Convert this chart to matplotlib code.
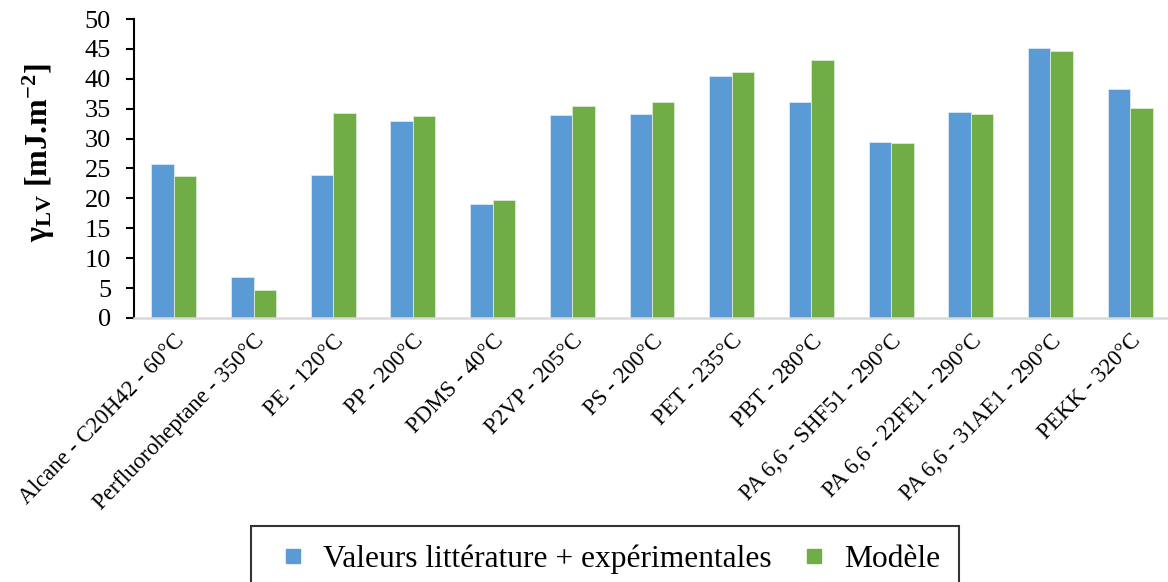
import numpy as np
import matplotlib
matplotlib.use("Agg")
import matplotlib.pyplot as plt
from matplotlib.lines import Line2D

plt.rcParams['font.family'] = ['Liberation Serif', 'DejaVu Serif']
plt.rcParams['mathtext.fontset'] = 'custom'
plt.rcParams['mathtext.rm'] = 'Liberation Serif'
plt.rcParams['mathtext.it'] = 'Liberation Serif:italic'
plt.rcParams['mathtext.bf'] = 'Liberation Serif:bold'

categories = [
    "Alcane - C20H42 - 60°C", "Perfluoroheptane - 350°C", "PE - 120°C",
    "PP - 200°C", "PDMS - 40°C", "P2VP - 205°C", "PS - 200°C",
    "PET - 235°C", "PBT - 280°C", "PA 6,6 - SHF51 - 290°C",
    "PA 6,6 - 22FE1 - 290°C", "PA 6,6 - 31AE1 - 290°C", "PEKK - 320°C",
]
valeurs = [25.7, 6.9, 23.9, 33.0, 19.1, 33.9, 34.1, 40.4, 36.1, 29.5, 34.4, 45.1, 38.3]
modele = [23.7, 4.7, 34.2, 33.7, 19.7, 35.5, 36.1, 41.1, 43.1, 29.2, 34.1, 44.6, 35.1]
series_names = ["Valeurs littérature + expérimentales", "Modèle"]

blue = "#5B9BD5"
green = "#70AD47"

fig = plt.figure(figsize=(11.68, 5.82), dpi=100)
ax = fig.add_axes([134 / 1168, 1 - 318 / 582, 1036 / 1168, 299 / 582])

x = np.arange(len(categories))
w = 0.282
ax.bar(x - w / 2, valeurs, w, color=blue, edgecolor="#dbe8f5", linewidth=0.6)
ax.bar(x + w / 2, modele, w, color=green, edgecolor="#dcebd3", linewidth=0.6)

ax.set_xlim(-0.5, len(categories) - 0.5)
ax.set_ylim(0, 50)
ax.set_yticks(np.arange(0, 51, 5))
ax.tick_params(axis='y', direction='out', length=5.5, width=1.5, labelsize=19, pad=11)
ax.tick_params(axis='x', length=0, labelsize=16.5, pad=9)
ax.set_xticks(x)
ax.set_xticklabels(categories, rotation=46, ha='right', rotation_mode='anchor')

for side in ('top', 'right'):
    ax.spines[side].set_visible(False)
ax.spines['left'].set_linewidth(1.5)
ax.spines['left'].set_color('black')
ax.spines['bottom'].set_linewidth(1.8)
ax.spines['bottom'].set_color('#d9d9d9')

# y-axis title placed in figure pixels
fig.text(39 / 1168, 1 - 153 / 582,
         r'$\mathbf{\gamma_{LV}}$ [mJ.m$^{\mathbf{-2}}$]',
         rotation=90, ha='center', va='center', fontsize=23, fontweight='bold')

handles = [
    Line2D([], [], marker='s', linestyle='none', markersize=9.5,
           markerfacecolor=blue, markeredgecolor=blue),
    Line2D([], [], marker='s', linestyle='none', markersize=9.5,
           markerfacecolor=green, markeredgecolor=green),
]
leg = fig.legend(handles, series_names, loc='upper center',
                 bbox_to_anchor=(605 / 1168, 1 - 526 / 582), borderaxespad=0,
                 ncol=2, fontsize=22.7, frameon=True, fancybox=False,
                 edgecolor='black', handlelength=1.5, handletextpad=0.2,
                 columnspacing=0.6, borderpad=0.6)
leg.get_frame().set_linewidth(1.5)

fig.savefig("out.png", dpi=100)
